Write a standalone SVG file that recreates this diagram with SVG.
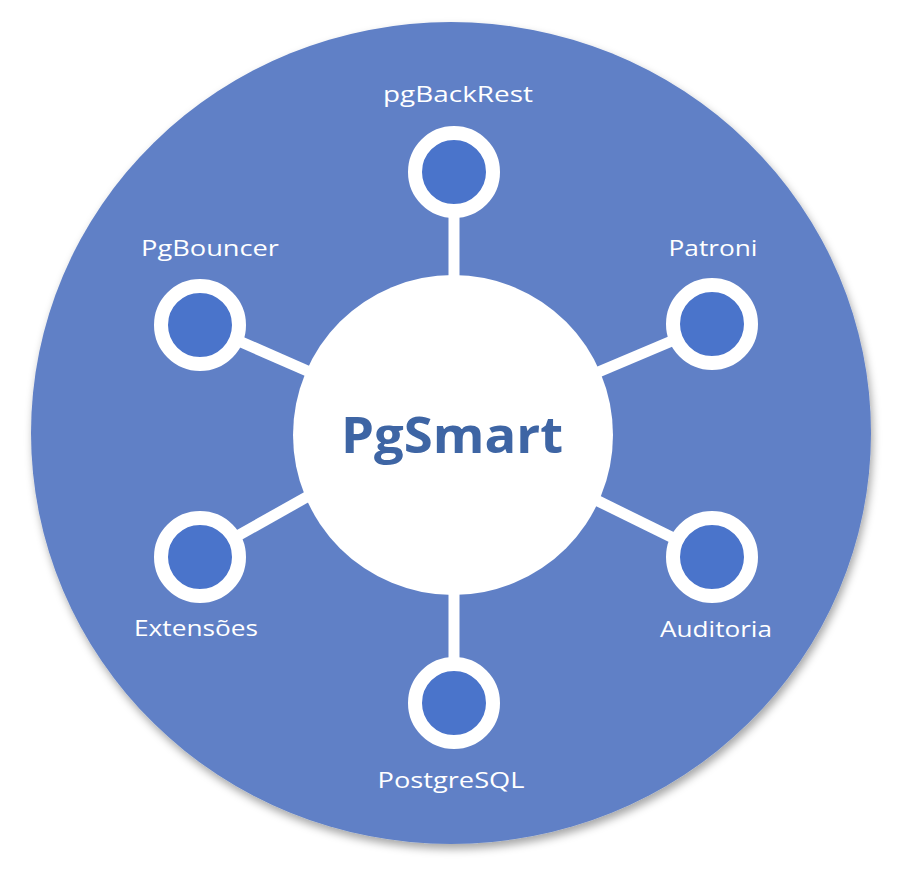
<svg xmlns="http://www.w3.org/2000/svg" width="902" height="872" viewBox="0 0 902 872">
  <defs>
    <filter id="shadow" x="-10%" y="-10%" width="120%" height="125%">
      <feDropShadow dx="2" dy="5" stdDeviation="4" flood-color="#000" flood-opacity="0.35"/>
    </filter>
  </defs>
  <style>
    .label { font-family: "Open Sans", "Noto Sans", "Liberation Sans", sans-serif; font-size: 21px; fill: #ffffff; text-anchor: middle; }
    .ring { fill: #4a74cb; stroke: #ffffff; stroke-width: 14; }
    .conn { stroke: #ffffff; stroke-width: 11; stroke-linecap: butt; fill: none; }
    .title { font-family: "Open Sans", "Noto Sans", "Liberation Sans", sans-serif; font-weight: 700; font-size: 50px; fill: #3e65a4; text-anchor: middle; }
  </style>
  <rect width="902" height="872" fill="#ffffff"/>
  <ellipse id="background" cx="451" cy="433" rx="420" ry="411" fill="#6080c6" filter="url(#shadow)"/>

  <g id="connectors">
    <line class="conn" x1="454" y1="172" x2="454" y2="292"/>
    <line class="conn" x1="454" y1="703" x2="454" y2="580"/>
    <line class="conn" x1="200" y1="324" x2="312" y2="373"/>
    <line class="conn" x1="712" y1="324" x2="596" y2="373"/>
    <line class="conn" x1="200" y1="557" x2="312" y2="494"/>
    <line class="conn" x1="712" y1="557" x2="596" y2="500"/>
  </g>

  <g id="pgsmart">
    <circle cx="453" cy="435" r="160" fill="#ffffff"/>
    <text class="title" x="452" y="453" textLength="222" lengthAdjust="spacingAndGlyphs">PgSmart</text>
  </g>

  <g id="pgbackrest">
    <circle class="ring" cx="454" cy="172" r="39"/>
    <text class="label" x="458" y="102" textLength="150" lengthAdjust="spacingAndGlyphs">pgBackRest</text>
  </g>
  <g id="pgbouncer">
    <circle class="ring" cx="200" cy="325" r="39"/>
    <text class="label" x="210" y="256" textLength="138" lengthAdjust="spacingAndGlyphs">PgBouncer</text>
  </g>
  <g id="patroni">
    <circle class="ring" cx="712" cy="324" r="39"/>
    <text class="label" x="713" y="256" textLength="89" lengthAdjust="spacingAndGlyphs">Patroni</text>
  </g>
  <g id="extensoes">
    <circle class="ring" cx="200" cy="557" r="39"/>
    <text class="label" x="196" y="636" textLength="124" lengthAdjust="spacingAndGlyphs">Extensões</text>
  </g>
  <g id="auditoria">
    <circle class="ring" cx="712" cy="557" r="39"/>
    <text class="label" x="716" y="637" textLength="112" lengthAdjust="spacingAndGlyphs">Auditoria</text>
  </g>
  <g id="postgresql">
    <circle class="ring" cx="454" cy="703" r="39"/>
    <text class="label" x="451" y="788" textLength="147" lengthAdjust="spacingAndGlyphs">PostgreSQL</text>
  </g>
</svg>
